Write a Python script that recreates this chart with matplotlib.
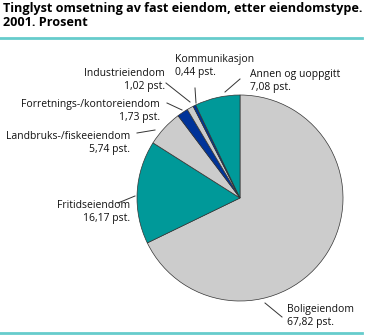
import matplotlib
matplotlib.use('Agg')
import matplotlib.pyplot as plt
from matplotlib.lines import Line2D

# Data
categories = ['Boligeiendom', 'Fritidseiendom', 'Landbruks-/fiskeeiendom',
              'Forretnings-/kontoreiendom', 'Industrieiendom',
              'Kommunikasjon', 'Annen og uoppgitt']
values = [67.82, 16.17, 5.74, 1.73, 1.02, 0.44, 7.08]
value_labels = ['67,82 pst.', '16,17 pst.', '5,74 pst.', '1,73 pst.',
                '1,02 pst.', '0,44 pst.', '7,08 pst.']

colors = ['#cccccc', '#009999', '#cccccc', '#003399', '#cccccc',
          '#003399', '#009999']

W, H = 365, 336
plt.rcParams['font.family'] = ['Open Sans', 'DejaVu Sans']

fig = plt.figure(figsize=(W / 100, H / 100), dpi=100)


def fx(px):
    return px / W


def fy(py):
    return 1 - py / H


# pie axes: center (240, 198) px, radius 103 px
cx, cy, r = 240, 198, 103
ax = fig.add_axes([fx(cx - r), fy(cy + r), 2 * r / W, 2 * r / H])
ax.pie(values, colors=colors, startangle=90, counterclock=False,
       radius=1, wedgeprops=dict(edgecolor='#333333', linewidth=0.5))
ax.set_xlim(-1, 1)
ax.set_ylim(-1, 1)
ax.set_aspect('auto')
ax.axis('off')

# title and rules
fig.text(fx(3), fy(2), 'Tinglyst omsetning av fast eiendom, etter eiendomstype.\n2001. Prosent',
         fontsize=9.05, fontweight='bold', va='top', ha='left', linespacing=1.15)
fig.add_artist(Line2D([0, fx(362)], [fy(38), fy(38)], color='#66cccc', lw=2))
fig.add_artist(Line2D([0, fx(362)], [fy(333), fy(333)], color='#66cccc', lw=2))

# label positions (text anchor px, ha) and leader lines (from, to) px
layout = {
    'Boligeiendom': ((287, 316), 'left', (265, 303), (282, 317)),
    'Fritidseiendom': ((130, 212), 'right', (135, 196), (118, 203)),
    'Landbruks-/fiskeeiendom': ((130, 143), 'right', (155, 130), (137, 133)),
    'Forretnings-/kontoreiendom': ((160, 111), 'right', (182, 110), (167, 103)),
    'Industrieiendom': ((165, 80), 'right', (190, 102), (166, 83)),
    'Kommunikasjon': ((175, 66), 'left', (196, 103), (195, 88)),
    'Annen og uoppgitt': ((250, 81), 'left', (225, 92), (240, 79)),
}

for cat, lab in zip(categories, value_labels):
    (tx, ty), ha, p0, p1 = layout[cat]
    fig.text(fx(tx), fy(ty), f'{cat}\n{lab}', fontsize=7.5, ha=ha,
             va='center', linespacing=1.2, color='#111111')
    fig.add_artist(Line2D([fx(p0[0]), fx(p1[0])], [fy(p0[1]), fy(p1[1])],
                          color='#333333', lw=0.7))

fig.savefig('out.png', dpi=100)
